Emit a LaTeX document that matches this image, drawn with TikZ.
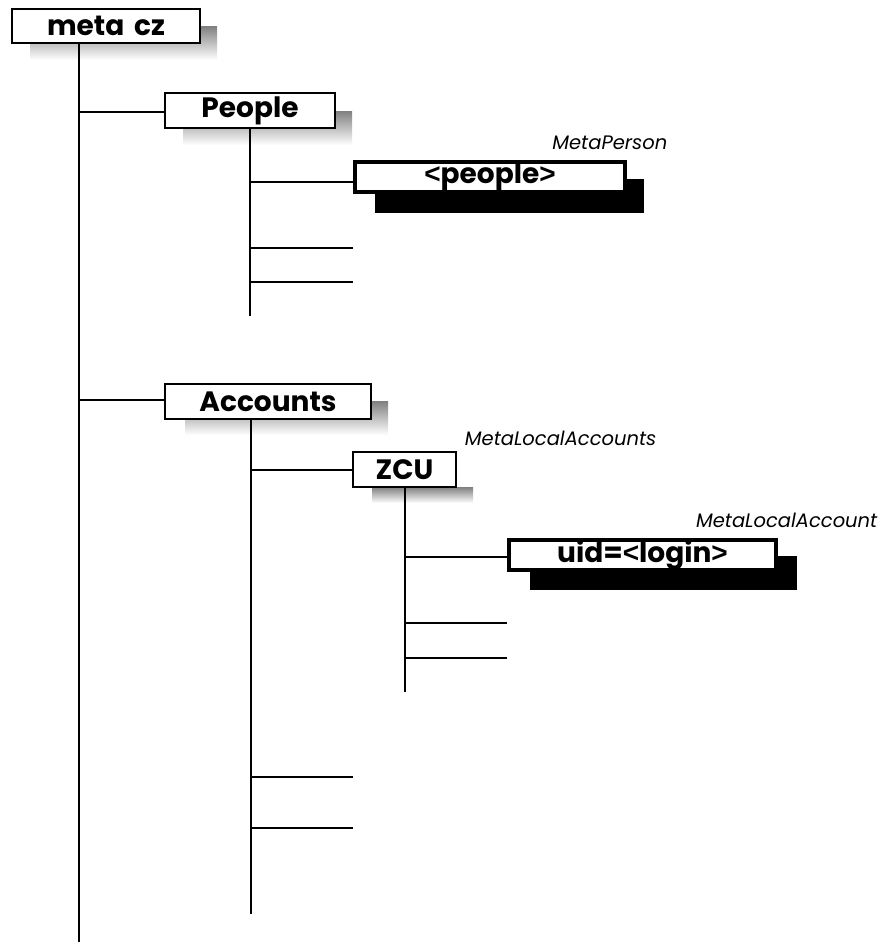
\documentclass[tikz,border=0pt]{standalone}
\usepackage{fontspec}
\setmainfont{Poppins}
\newfontfamily\ltgt{Liberation Sans}
\newcommand{\LT}{{\ltgt\bfseries<}}
\newcommand{\GT}{{\ltgt\bfseries>}}
\definecolor{shade}{HTML}{A0A0A0}
\begin{document}
\begin{tikzpicture}[x=1pt,y=-1pt,
  line width=1.4pt,
  box/.style={draw, fill=white, rectangle, inner sep=0pt, font=\fontsize{28}{30}\selectfont\bfseries},
  thickbox/.style={box, line width=4pt},
  lbl/.style={font=\fontsize{19.5}{22}\selectfont\itshape, inner sep=0pt, anchor=east}]
\useasboundingbox (0,0) rectangle (886,945);
% shadows
\fill[shade] (30,26) rectangle (217,60);
\fill[shade] (183,111) rectangle (352,145);
\fill[shade] (185,401) rectangle (388,435);
\fill[shade] (372,487) rectangle (473,503);
\fill[black] (375,179) rectangle (644,213);
\fill[black] (530,556) rectangle (797,590);
% nodes
\node[box, minimum width=188pt, minimum height=34pt] (meta) at (106,26) {meta\hspace{0.35em}cz};
\node[box, minimum width=170pt, minimum height=35pt] (people) at (250,110.5) {People};
\node[thickbox, minimum width=270pt, minimum height=30pt] (ppl) at (490,176.5) {\LT people\GT};
\node[box, minimum width=206pt, minimum height=35pt] (acc) at (268,401.5) {Accounts};
\node[box, minimum width=103pt, minimum height=35pt] (zcu) at (404.5,469.5) {ZCU};
\node[thickbox, minimum width=267pt, minimum height=30pt] (uid) at (642.5,555) {uid=\LT login\GT};
\node[lbl] (l1) at (668,143) {MetaPerson};
\node[lbl] (l2) at (657,438) {MetaLocalAccounts};
\node[lbl] (l3) at (878,520) {MetaLocalAccount};
% coordinates
\coordinate (m0) at (79,43);
\coordinate (m1) at (79,942);
\coordinate (p0) at (250,128);
\coordinate (p1) at (250,316);
\coordinate (pa) at (353,248);
\coordinate (pb) at (353,282);
\coordinate (a0) at (251,419);
\coordinate (a1) at (251,914);
\coordinate (aa) at (353,777);
\coordinate (ab) at (353,828);
\coordinate (z0) at (405,487);
\coordinate (z1) at (405,692);
\coordinate (za) at (507,623);
\coordinate (zb) at (507,658);
% connectors
\draw (m0) -- (m1);
\draw (people.west |- 0,112) -- (79,112);
\draw (acc.west |- 0,400) -- (79,400);
\draw (p0) -- (p1);
\draw (ppl.west |- 0,182) -- (250,182);
\draw (pa) -- (pa -| p0);
\draw (pb) -- (pb -| p0);
\draw (a0) -- (a1);
\draw (zcu.west |- 0,470) -- (251,470);
\draw (aa) -- (aa -| a0);
\draw (ab) -- (ab -| a0);
\draw (z0) -- (z1);
\draw (uid.west |- 0,557) -- (405,557);
\draw (za) -- (za -| z0);
\draw (zb) -- (zb -| z0);
\end{tikzpicture}
\end{document}
